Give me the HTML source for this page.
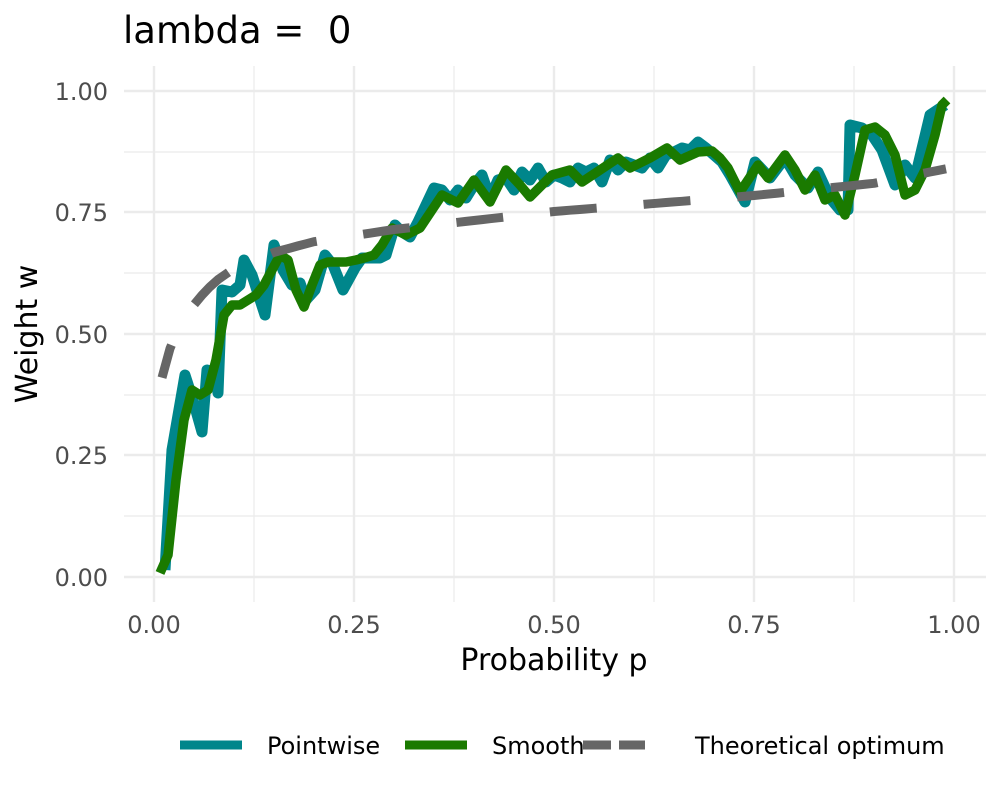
<!DOCTYPE html>
<html><head><meta charset="utf-8"><style>body{margin:0;background:#fff}svg{display:block;font-family:"DejaVu Sans","Liberation Sans",sans-serif}</style></head><body>
<svg width="1000" height="800" viewBox="0 0 1000 800">
<g stroke="#ebebeb" stroke-width="1.2">
<line x1="124" x2="986" y1="152" y2="152"/><line x1="124" x2="986" y1="273" y2="273"/><line x1="124" x2="986" y1="395" y2="395"/><line x1="124" x2="986" y1="516" y2="516"/>
<line x1="254" x2="254" y1="66" y2="602"/><line x1="454" x2="454" y1="66" y2="602"/><line x1="654" x2="654" y1="66" y2="602"/><line x1="854" x2="854" y1="66" y2="602"/>
</g>
<g stroke="#ebebeb" stroke-width="2.4">
<line x1="124" x2="986" y1="91" y2="91"/><line x1="124" x2="986" y1="212" y2="212"/><line x1="124" x2="986" y1="334" y2="334"/><line x1="124" x2="986" y1="455" y2="455"/><line x1="124" x2="986" y1="577" y2="577"/>
<line x1="154" x2="154" y1="66" y2="602"/><line x1="354" x2="354" y1="66" y2="602"/><line x1="554" x2="554" y1="66" y2="602"/><line x1="754" x2="754" y1="66" y2="602"/><line x1="954" x2="954" y1="66" y2="602"/>
</g>
<g fill="none" stroke-linejoin="round" stroke-linecap="butt">
<polyline stroke="#00868B" stroke-width="11" points="165,570 172,450 185,375 193,400 202,432 207,370 214,372 218,393 222,290 232,292 240,285 244,260 252,275 265,315 274,245 283,270 292,285 300,283 306,300 315,290 325,255 333,265 343,290 355,268 362,258 380,258 386,255 395,225 402,232 410,237 418,222 426,205 434,188 442,190 450,200 458,190 466,198 474,185 482,175 490,198 498,180 506,178 514,190 522,172 530,180 538,168 546,182 554,175 562,178 570,182 578,168 586,172 594,168 602,182 610,160 618,170 626,162 634,165 642,168 650,158 658,168 666,155 674,152 682,148 690,150 698,142 706,148 714,155 722,162 730,175 745,202 755,162 770,178 785,158 795,175 808,188 818,172 830,198 840,210 848,210 850,125 862,128 872,135 882,150 895,185 905,165 915,178 930,115 945,105"/>
<polyline stroke="#1A7A00" stroke-width="9.5" points="160,573 168,555 176,480 184,420 192,390 200,395 208,390 216,360 224,315 232,305 240,305 248,300 256,295 264,285 272,270 280,255 288,260 296,290 304,307 312,285 320,265 328,262 338,262 346,262 356,260 364,258 374,255 382,245 392,228 406,235 420,228 442,195 458,203 474,180 490,202 506,170 520,185 530,197 552,175 570,170 582,182 600,170 618,158 630,168 650,158 667,148 680,160 698,152 712,151 720,158 728,168 740,192 758,165 768,178 785,155 795,170 805,190 815,175 825,200 835,195 845,215 855,175 865,130 875,127 885,135 895,155 905,195 915,190 925,170 935,135 942,105 947,100"/>
<path id="th" stroke="#666666" stroke-width="9" stroke-dasharray="47 47" stroke-dashoffset="13" d=""/>
</g>
<g fill="#4d4d4d" font-size="24" text-anchor="end">
<text x="108" y="100">1.00</text><text x="108" y="221">0.75</text><text x="108" y="343">0.50</text><text x="108" y="464">0.25</text><text x="108" y="586">0.00</text>
</g>
<g fill="#4d4d4d" font-size="24" text-anchor="middle">
<text x="154" y="633">0.00</text><text x="354" y="633">0.25</text><text x="554" y="633">0.50</text><text x="754" y="633">0.75</text><text x="954" y="633">1.00</text>
</g>
<text x="554" y="670" font-size="30" text-anchor="middle" fill="#000">Probability p</text>
<text transform="translate(37,334) rotate(-90)" font-size="30" text-anchor="middle" fill="#000">Weight w</text>
<text x="123" y="43" font-size="37" fill="#000" xml:space="preserve">lambda =  0</text>
<g stroke-width="9">
<line x1="180" x2="242" y1="745" y2="745" stroke="#00868B"/>
<line x1="405" x2="467" y1="745" y2="745" stroke="#1A7A00"/>
<line x1="583" x2="645" y1="745" y2="745" stroke="#666" stroke-dasharray="28 8"/>
</g>
<g font-size="24" fill="#000">
<text x="267" y="754">Pointwise</text><text x="492" y="754">Smooth</text><text x="695" y="754">Theoretical optimum</text>
</g>
</svg>
<script>
var P=[[0.01,0.41],[0.02,0.47],[0.03,0.51],[0.05,0.56],[0.065,0.59],[0.08,0.612],[0.1,0.635],[0.15,0.668],[0.2,0.69],[0.3,0.715],[0.5,0.752],[0.75,0.785],[0.9,0.81],[0.99,0.84]];
function f(p){for(var k=0;k<P.length-1;k++){if(p<=P[k+1][0]){var t=(p-P[k][0])/(P[k+1][0]-P[k][0]);return P[k][1]+t*(P[k+1][1]-P[k][1]);}}return P[P.length-1][1];}
var d="";for(var i=1;i<=99;i++){var p=i/100;var w=f(p);var x=154+800*p,y=577-486*w;d+=(i==1?"M":"L")+x.toFixed(1)+","+y.toFixed(1);}
document.getElementById("th").setAttribute("d",d);
</script>
</body></html>
